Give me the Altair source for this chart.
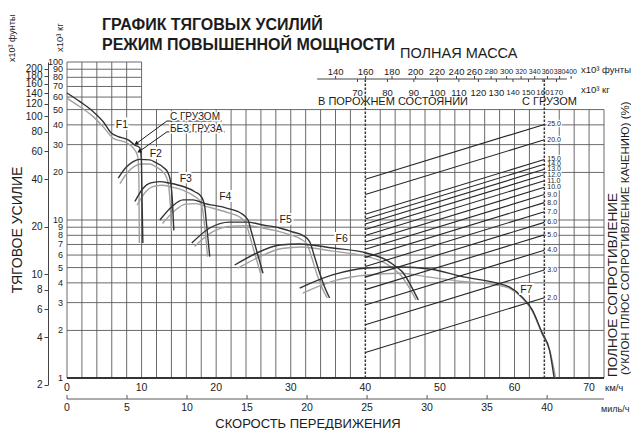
import math
import altair as alt
import pandas as pd

FONT = "Liberation Sans"
DARK = "#333333"
LIGHT = "#a0a0a0"
GRID = "#5a5a5a"
INK = "#1c1c1c"

# ---------------- axis / grid values ----------------
grid_kg = [1, 2, 3, 4, 5, 6, 7, 8, 9, 10, 20, 30, 40, 50, 60, 70, 80, 90, 100]
grid_kmh = list(range(0, 74, 2))
kmh_labels = [0, 10, 20, 30, 40, 50, 60, 70]
mph_labels = [0, 5, 10, 15, 20, 25, 30, 35, 40]
lbs_labels = [2, 4, 6, 8, 10, 20, 40, 60, 80, 100, 120, 140, 160, 180, 200]
mass_kg_labels = [70, 80, 90, 100, 110, 120, 130, 140, 150, 160, 170]
mass_lbs_labels = [140, 160, 180, 200, 220, 240, 260, 280, 300, 320, 340, 360, 380, 400]
mass_axis_span = [58.5, 178.0]

# ---------------- masses and total resistance ----------------
mass_empty = 72.5      # x10^3 kg
mass_loaded = 161.0    # x10^3 kg
resistance_pct = [2, 3, 4, 5, 6, 7, 8, 9, 10, 11, 12, 13, 14, 15, 20, 25]

# ---------------- rimpull curves (km/h, x10^3 kg) ----------------
f1_loaded_kmh = [0, 1.74, 3.52, 4.86, 5.98, 6.87, 8.21, 9.10, 9.77, 9.97, 10.04, 10.17]
f1_loaded_kg = [63.7, 56.1, 48.5, 41.9, 35.4, 33.7, 32.1, 29.8, 28.6, 24.0, 15.5, 7.15]
f1_empty_kmh = [0, 1.74, 3.52, 4.82, 6.16, 8.03, 9.10, 9.50, 9.64, 9.70]
f1_empty_kg = [58.9, 52.1, 45.1, 39.0, 33.0, 30.7, 27.7, 25.0, 17.9, 7.15]

f2_loaded_kmh = [6.87, 7.99, 8.88, 9.77, 11.11, 12.01, 12.89, 13.56, 13.92, 14.15, 14.32]
f2_loaded_kg = [18.4, 21.7, 23.4, 24.2, 24.0, 22.9, 21.6, 19.8, 17.1, 12.8, 8.6]
f2_empty_kmh = [7.1, 8.2, 9.1, 10.0, 11.1, 12.0, 12.8, 13.35, 13.65, 13.85, 14.0]
f2_empty_kg = [17.0, 20.2, 21.9, 22.6, 22.6, 21.6, 20.3, 18.6, 16.2, 12.5, 8.6]

f3_loaded_kmh = [9.10, 10.21, 11.11, 12.45, 13.79, 15.57, 17.14, 18.03, 18.47, 18.70, 19.14]
f3_loaded_kg = [13.1, 15.9, 17.1, 17.5, 17.1, 16.3, 15.1, 14.0, 12.1, 9.5, 5.86]
f3_empty_kmh = [9.4, 10.5, 11.4, 12.7, 14.0, 15.6, 17.0, 17.8, 18.2, 18.45, 18.85]
f3_empty_kg = [12.4, 15.0, 16.2, 16.6, 16.2, 15.4, 14.2, 13.2, 11.5, 9.2, 5.86]

f4_loaded_kmh = [12.45, 14.02, 15.57, 16.91, 18.25, 21.38, 23.39, 24.27, 24.73, 25.40, 26.28]
f4_loaded_kg = [10.0, 12.1, 13.4, 13.4, 12.8, 11.9, 11.0, 10.0, 8.4, 6.46, 4.6]
f4_empty_kmh = [12.8, 14.4, 15.9, 17.3, 18.6, 21.4, 23.2, 24.0, 24.45, 25.1, 25.95]
f4_empty_kg = [9.5, 11.4, 12.6, 12.7, 12.2, 11.2, 10.4, 9.5, 8.1, 6.3, 4.6]

f5_loaded_kmh = [16.73, 19.14, 21.82, 24.10, 26.24, 28.51, 30.25, 31.59, 32.53, 33.20, 33.87, 34.54, 35.21]
f5_loaded_kg = [7.15, 8.9, 9.7, 9.7, 9.3, 8.9, 8.4, 8.0, 7.3, 5.83, 4.62, 3.77, 3.21]
f5_empty_kmh = [17.1, 19.5, 22.1, 24.3, 26.4, 28.5, 30.1, 31.3, 32.2, 32.85, 33.5, 34.2, 34.9]
f5_empty_kg = [6.8, 8.4, 9.15, 9.2, 8.85, 8.45, 8.0, 7.6, 7.0, 5.7, 4.55, 3.72, 3.21]

f6_loaded_kmh = [22.49, 25.44, 28.51, 31.19, 35.61, 40.16, 42.84, 44.18, 44.98, 45.92, 47.1]
f6_loaded_kg = [5.19, 6.18, 6.95, 7.05, 6.65, 6.18, 5.58, 5.04, 4.69, 3.99, 3.12]
f6_empty_kmh = [22.9, 25.8, 28.8, 31.4, 35.6, 40.0, 42.6, 43.9, 44.7, 45.7, 46.8]
f6_empty_kg = [4.95, 5.85, 6.6, 6.75, 6.35, 5.9, 5.35, 4.85, 4.5, 3.85, 3.12]

f7_loaded_kmh = [31.2, 35.6, 40.2, 44.6, 48.6, 53.0, 57.6, 59.3, 61.0, 62.4, 63.7, 64.7, 65.3]
f7_loaded_kg = [3.71, 4.49, 4.97, 5.04, 4.9, 4.38, 3.99, 3.77, 3.26, 2.69, 1.93, 1.50, 1.01]
f7_empty_kmh = [31.6, 36.0, 40.5, 44.6, 48.6, 53.0, 57.6, 59.3, 61.0, 62.4, 63.7, 64.8, 65.5]
f7_empty_kg = [3.45, 4.15, 4.5, 4.6, 4.35, 4.08, 3.88, 3.70, 3.22, 2.64, 1.90, 1.45, 1.01]

gear_names = ["F1", "F2", "F3", "F4", "F5", "F6", "F7"]
gear_label_kmh = [7.36, 11.9, 15.93, 21.22, 29.32, 36.82, 61.58]
gear_label_kg = [39.7, 26.3, 18.3, 13.9, 9.93, 7.63, 3.61]

# leader lines for the two curve kinds
lead_loaded_kmh = [20.75, 13.39, 9.35]
lead_loaded_kg = [42.3, 42.3, 30.6]
lead_empty_kmh = [21.15, 13.39, 9.75]
lead_empty_kg = [36.1, 36.1, 27.3]

# ---------------- layout ----------------
W, H = 537, 316
KMH_MAX = 72
LBS_PER_KG = 2.20462
KMH_PER_MPH = 1.609344
PX_PER_DECADE = H / 2.0

xs = alt.Scale(domain=[0, KMH_MAX], nice=False, zero=False)
ys = alt.Scale(type="log", domain=[1, 100], nice=False)

# mass scale: empty mass sits on the 40 km/h line, loaded mass on the 64 km/h line
EMPTY_AT, LOADED_AT = 40, 64
dec_per_kmh = (math.log10(mass_loaded) - math.log10(mass_empty)) / (LOADED_AT - EMPTY_AT)
m_d0 = 10 ** (math.log10(mass_empty) - EMPTY_AT * dec_per_kmh)
m_d1 = 10 ** (math.log10(mass_empty) + (KMH_MAX - EMPTY_AT) * dec_per_kmh)
ms = alt.Scale(type="log", domain=[m_d0, m_d1], nice=False, zero=False)


def X(f):
    return alt.X(f, scale=xs, axis=None)


def Y(f):
    return alt.Y(f, scale=ys, axis=None)


def MX(f):
    return alt.X(f, scale=ms, axis=None)


def MY(f):
    return alt.Y(f, scale=ys, axis=None)


def txt(s, x, y, size, weight="normal", angle=0, align="left", baseline="alphabetic"):
    return alt.Chart(pd.DataFrame({"t": [s]})).mark_text(
        font=FONT, fontSize=size, fontWeight=weight, angle=angle, align=align,
        baseline=baseline, color=INK
    ).encode(text="t:N", x=alt.value(x), y=alt.value(y))


# ---------------- main (speed / rimpull) group ----------------
vgrid = alt.Chart(pd.DataFrame({"kmh": [v for v in grid_kmh if v not in (EMPTY_AT, LOADED_AT)]})).transform_calculate(
    lo="1", hi="datum.kmh <= 10 ? 100 : 50"
).mark_rule(color=GRID, strokeWidth=0.9).encode(x=X("kmh:Q"), y=Y("lo:Q"), y2="hi:Q")

hgrid = alt.Chart(pd.DataFrame({"kg": grid_kg})).transform_calculate(
    x0="0", x1="datum.kg <= 50 ? %d : 10" % KMH_MAX
).mark_rule(color=GRID, strokeWidth=0.9).encode(y=Y("kg:Q"), x=X("x0:Q"), x2="x1:Q")

base_line = alt.Chart(pd.DataFrame({"kg": [1], "a": [0], "b": [KMH_MAX]})).mark_rule(
    color="#333", strokeWidth=1.8
).encode(y=Y("kg:Q"), x=X("a:Q"), x2="b:Q")

kg_lab = alt.Chart(pd.DataFrame({"kg": grid_kg})).mark_text(
    font=FONT, fontSize=9, color=INK, align="right", baseline="middle").encode(
    x=alt.value(-4), y=Y("kg:Q"), text="kg:Q")

kmh_lab = alt.Chart(pd.DataFrame({"kmh": kmh_labels})).mark_text(
    font=FONT, fontSize=10.5, color=INK, baseline="alphabetic").encode(
    x=X("kmh:Q"), y=alt.value(329), text="kmh:Q")

mph_df = pd.DataFrame({"mph": mph_labels})
mph_line = alt.Chart(pd.DataFrame({"a": [0], "b": [KMH_MAX]})).mark_rule(color=GRID, strokeWidth=1).encode(
    x=X("a:Q"), x2="b:Q", y=alt.value(337))
mph_ticks = alt.Chart(mph_df).transform_calculate(kmh="datum.mph * %f" % KMH_PER_MPH).mark_rule(
    color=GRID, strokeWidth=1).encode(x=X("kmh:Q"), y=alt.value(333), y2=alt.value(337))
mph_text = alt.Chart(mph_df).transform_calculate(kmh="datum.mph * %f" % KMH_PER_MPH).mark_text(
    font=FONT, fontSize=10.5, color=INK, baseline="alphabetic").encode(
    x=X("kmh:Q"), y=alt.value(349), text="mph:Q")

rows = []
series = [
    ("F1", "loaded", f1_loaded_kmh, f1_loaded_kg), ("F1", "empty", f1_empty_kmh, f1_empty_kg),
    ("F2", "loaded", f2_loaded_kmh, f2_loaded_kg), ("F2", "empty", f2_empty_kmh, f2_empty_kg),
    ("F3", "loaded", f3_loaded_kmh, f3_loaded_kg), ("F3", "empty", f3_empty_kmh, f3_empty_kg),
    ("F4", "loaded", f4_loaded_kmh, f4_loaded_kg), ("F4", "empty", f4_empty_kmh, f4_empty_kg),
    ("F5", "loaded", f5_loaded_kmh, f5_loaded_kg), ("F5", "empty", f5_empty_kmh, f5_empty_kg),
    ("F6", "loaded", f6_loaded_kmh, f6_loaded_kg), ("F6", "empty", f6_empty_kmh, f6_empty_kg),
    ("F7", "loaded", f7_loaded_kmh, f7_loaded_kg), ("F7", "empty", f7_empty_kmh, f7_empty_kg),
]
for g, load, ks, vs in series:
    for i, (k, v) in enumerate(zip(ks, vs)):
        rows.append({"gear": g, "load": load, "i": i, "kmh": k, "kg": v})
curve_df = pd.DataFrame(rows)


def curve_layer(load, color):
    return alt.Chart(curve_df).transform_filter(alt.datum.load == load).mark_line(
        color=color, strokeWidth=1.4, interpolate="monotone", strokeJoin="round"
    ).encode(x=X("kmh:Q"), y=Y("kg:Q"), detail="gear:N", order="i:Q")


curves_empty = curve_layer("empty", LIGHT)
curves_loaded = curve_layer("loaded", DARK)

glab_df = pd.DataFrame({"g": gear_names, "kmh": gear_label_kmh, "kg": gear_label_kg})
glab_halo = alt.Chart(glab_df).mark_text(font=FONT, fontSize=10.5, stroke="white", strokeWidth=4,
                                         color="white", baseline="middle").encode(
    x=X("kmh:Q"), y=Y("kg:Q"), text="g:N")
glab = alt.Chart(glab_df).mark_text(font=FONT, fontSize=10.5, color=INK, baseline="middle").encode(
    x=X("kmh:Q"), y=Y("kg:Q"), text="g:N")

lead_rows = []
for name, ks, vs in [("loaded", lead_loaded_kmh, lead_loaded_kg), ("empty", lead_empty_kmh, lead_empty_kg)]:
    for i, (k, v) in enumerate(zip(ks, vs)):
        lead_rows.append({"lead": name, "i": i, "kmh": k, "kg": v})
lead_df = pd.DataFrame(lead_rows)
leaders = alt.Chart(lead_df).mark_line(color=INK, strokeWidth=1).encode(
    x=X("kmh:Q"), y=Y("kg:Q"), detail="lead:N", order="i:Q")
arrows = alt.Chart(lead_df).transform_filter(alt.datum.i == 2).mark_point(
    shape="triangle", angle=240, size=22, filled=True, color=INK, opacity=1).encode(
    x=X("kmh:Q"), y=Y("kg:Q"))

ann_df = pd.DataFrame({"t": ["С ГРУЗОМ", "БЕЗ ГРУЗА"], "kmh": [13.8, 13.8], "kg": [44.9, 37.4]})
ann_halo = alt.Chart(ann_df).mark_text(font=FONT, fontSize=10, align="left", stroke="white",
                                       strokeWidth=3, color="white").encode(
    x=X("kmh:Q"), y=Y("kg:Q"), text="t:N")
ann = alt.Chart(ann_df).mark_text(font=FONT, fontSize=10, align="left", color=INK).encode(
    x=X("kmh:Q"), y=Y("kg:Q"), text="t:N")

texts = [
    txt("ГРАФИК ТЯГОВЫХ УСИЛИЙ", 35, -32, 16, weight="bold"),
    txt("РЕЖИМ ПОВЫШЕННОЙ МОЩНОСТИ", 35, -12, 16, weight="bold"),
    txt("ПОЛНАЯ МАССА", 333, -4, 14.5),
    txt("x10³ фунты", 514, 11, 9.5),
    txt("x10³ кг", 514, 31, 9.5),
    txt("В ПОРОЖНЕМ СОСТОЯНИИ", 251, 43, 11),
    txt("С ГРУЗОМ", 455, 43, 11),
    txt("ТЯГОВОЕ УСИЛИЕ", -49, 168, 14, angle=270, align="center", baseline="middle"),
    txt("x10³ фунты", -55, 0, 9, angle=270, baseline="middle"),
    txt("x10³ кг", -7, -10, 9.5, angle=270, baseline="middle"),
    txt("ПОЛНОЕ СОПРОТИВЛЕНИЕ", 546, 315, 13.5, angle=270, baseline="middle"),
    txt("(УКЛОН ПЛЮС СОПРОТИВЛЕНИЕ КАЧЕНИЮ) (%)", 558.5, 313, 11.5, angle=270, baseline="middle"),
    txt("км/ч", 538, 329, 9.5),
    txt("миль/ч", 534, 350, 9),
    txt("СКОРОСТЬ ПЕРЕДВИЖЕНИЯ", 241, 366, 13, align="center"),
]

main = alt.layer(
    vgrid, hgrid, base_line, kg_lab, kmh_lab, mph_line, mph_ticks, mph_text,
    curves_empty, curves_loaded, glab_halo, glab, leaders, arrows, ann_halo, ann, *texts
)

# ---------------- mass / resistance group ----------------
dash = alt.Chart(pd.DataFrame({"mass": [mass_empty, mass_loaded], "lo": [1, 1]})).mark_rule(
    color="#3a3a3a", strokeWidth=1.5, strokeDash=[2.5, 1.5]).encode(
    x=MX("mass:Q"), y=MY("lo:Q"), y2=alt.value(17))

res_rows = [{"pct": p, "mass": m} for p in resistance_pct for m in (mass_empty, mass_loaded)]
res_df = pd.DataFrame(res_rows)
res_lines = alt.Chart(res_df).transform_calculate(kg="datum.pct * datum.mass / 100").mark_line(
    color="#262626", strokeWidth=1.1).encode(
    x=MX("mass:Q"), y=MY("kg:Q"), detail="pct:N")
res_lab_base = alt.Chart(res_df).transform_filter(alt.datum.mass == mass_loaded).transform_calculate(
    kg="datum.pct * datum.mass / 100")
res_lab_halo = res_lab_base.mark_text(font=FONT, fontSize=7, align="left", dx=3, baseline="middle",
                                      stroke="white", strokeWidth=2.5, color="white").encode(
    x=MX("mass:Q"), y=MY("kg:Q"), text=alt.Text("pct:Q", format=".1f"))
res_lab = res_lab_base.mark_text(font=FONT, fontSize=7, align="left", dx=3, baseline="middle",
                                 color=INK).encode(
    x=MX("mass:Q"), y=MY("kg:Q"), text=alt.Text("pct:Q", format=".1f"))

maxis_line = alt.Chart(pd.DataFrame({"a": [mass_axis_span[0]], "b": [mass_axis_span[1]]})).mark_rule(
    color="#444", strokeWidth=1).encode(x=MX("a:Q"), x2="b:Q", y=alt.value(17))

kg_df = pd.DataFrame({"kg": mass_kg_labels})
kg_ticks = alt.Chart(kg_df).mark_rule(color="#444").encode(x=MX("kg:Q"), y=alt.value(17), y2=alt.value(20))
kg_text_big = alt.Chart(kg_df).transform_filter(alt.datum.kg <= 130).mark_text(
    font=FONT, fontSize=9.5, color=INK).encode(x=MX("kg:Q"), y=alt.value(31), text="kg:Q")
kg_text_small = alt.Chart(kg_df).transform_filter(alt.datum.kg > 130).mark_text(
    font=FONT, fontSize=8, color=INK).encode(x=MX("kg:Q"), y=alt.value(31), text="kg:Q")

lbs_df = pd.DataFrame({"lbs": mass_lbs_labels})
lbs_base = alt.Chart(lbs_df).transform_calculate(mass="datum.lbs / %f" % LBS_PER_KG)
lbs_ticks = lbs_base.mark_rule(color="#444").encode(x=MX("mass:Q"), y=alt.value(14), y2=alt.value(17))
lbs_text_big = lbs_base.transform_filter(alt.datum.lbs <= 260).mark_text(
    font=FONT, fontSize=9.5, color=INK).encode(x=MX("mass:Q"), y=alt.value(10), text="lbs:Q")
lbs_text_mid = lbs_base.transform_filter((alt.datum.lbs > 260) & (alt.datum.lbs <= 300)).mark_text(
    font=FONT, fontSize=8, color=INK).encode(x=MX("mass:Q"), y=alt.value(10), text="lbs:Q")
lbs_text_small = lbs_base.transform_filter(alt.datum.lbs > 300).mark_text(
    font=FONT, fontSize=7, color=INK).encode(x=MX("mass:Q"), y=alt.value(10), text="lbs:Q")

mass_group = alt.layer(dash, res_lines, res_lab_halo, res_lab, maxis_line, kg_ticks,
                       kg_text_big, kg_text_small, lbs_ticks, lbs_text_big, lbs_text_mid, lbs_text_small)

# ---------------- pounds rimpull axis (extends just below 1 x10^3 kg) ----------------
lbs_low = 2
lbs_axis = alt.Chart(pd.DataFrame({"lbs": [LBS_PER_KG]})).mark_point(opacity=0).encode(
    y=alt.Y("lbs:Q",
            scale=alt.Scale(type="log", domain=[lbs_low, 100 * LBS_PER_KG], nice=False,
                            range=[H + PX_PER_DECADE * math.log10(LBS_PER_KG / lbs_low), 0]),
            axis=alt.Axis(values=lbs_labels, orient="left", offset=19, tickSize=4, tickColor="#444",
                          domainColor="#444", labelPadding=2, labelFontSize=10, labelFont=FONT,
                          labelColor=INK, labelOverlap=False, labelFlush=False, grid=False,
                          format="d", title=None)))

chart = alt.layer(main, mass_group, lbs_axis).resolve_scale(x="independent", y="independent").properties(
    width=W, height=H,
    padding={"left": 59, "top": 54, "right": 27, "bottom": 52},
    autosize=alt.AutoSizeParams(type="none"),
).configure_view(stroke=None)

chart.save("out.html", embed_options={"renderer": "svg", "actions": False})
